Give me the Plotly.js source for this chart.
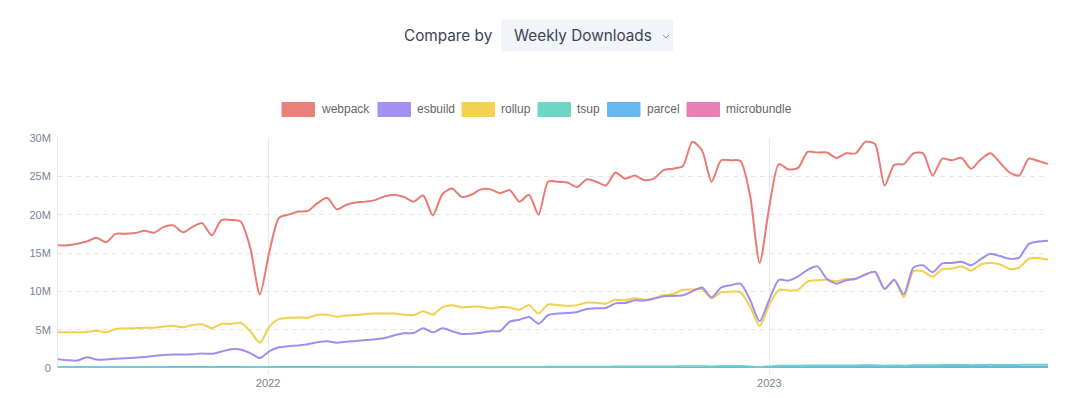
<!DOCTYPE html>
<html>
<head>
<meta charset="utf-8">
<script src="https://cdn.plot.ly/plotly-3.0.1.min.js"></script>
<style>
  html, body { margin: 0; padding: 0; background: #ffffff; }
  #chart { width: 1080px; height: 398px; }
</style>
</head>
<body>
<div id="chart"></div>
<script>
// ---------- DATA (weekly downloads, millions) ----------
const weeks = [
  '2021-08-01','2021-08-08','2021-08-15','2021-08-22','2021-08-29','2021-09-05','2021-09-12','2021-09-19','2021-09-26','2021-10-03',
  '2021-10-10','2021-10-17','2021-10-24','2021-10-31','2021-11-07','2021-11-14','2021-11-21','2021-11-28','2021-12-05','2021-12-12',
  '2021-12-19','2021-12-26','2022-01-02','2022-01-09','2022-01-16','2022-01-23','2022-01-30','2022-02-06','2022-02-13','2022-02-20',
  '2022-02-27','2022-03-06','2022-03-13','2022-03-20','2022-03-27','2022-04-03','2022-04-10','2022-04-17','2022-04-24','2022-05-01',
  '2022-05-08','2022-05-15','2022-05-22','2022-05-29','2022-06-05','2022-06-12','2022-06-19','2022-06-26','2022-07-03','2022-07-10',
  '2022-07-17','2022-07-24','2022-07-31','2022-08-07','2022-08-14','2022-08-21','2022-08-28','2022-09-04','2022-09-11','2022-09-18',
  '2022-09-25','2022-10-02','2022-10-09','2022-10-16','2022-10-23','2022-10-30','2022-11-06','2022-11-13','2022-11-20','2022-11-27',
  '2022-12-04','2022-12-11','2022-12-18','2022-12-25','2023-01-01','2023-01-08','2023-01-15','2023-01-22','2023-01-29','2023-02-05',
  '2023-02-12','2023-02-19','2023-02-26','2023-03-05','2023-03-12','2023-03-19','2023-03-26','2023-04-02','2023-04-09','2023-04-16',
  '2023-04-23','2023-04-30','2023-05-07','2023-05-14','2023-05-21','2023-05-28','2023-06-04','2023-06-11','2023-06-18','2023-06-25',
  '2023-07-02','2023-07-09','2023-07-16','2023-07-23'
];

const webpack = [
  16.0,16.0,16.2,16.5,17.0,16.4,17.5,17.5,17.6,17.9,
  17.65,18.4,18.6,17.7,18.4,18.9,17.3,19.3,19.3,19.1,
  15.7,9.6,15.2,19.6,20.0,20.4,20.5,21.5,22.2,20.7,
  21.3,21.6,21.7,21.9,22.4,22.6,22.3,21.7,22.5,19.9,
  22.7,23.4,22.3,22.6,23.3,23.3,22.8,23.2,21.7,22.6,
  20.0,24.3,24.3,24.2,23.6,24.6,24.3,23.8,25.5,24.7,
  25.1,24.5,24.7,25.8,26.0,26.3,29.5,28.4,24.3,27.1,
  27.1,27.0,22.5,13.7,21.0,26.6,25.9,26.1,28.2,28.1,
  28.1,27.4,28.0,28.0,29.5,29.2,23.8,26.5,26.6,28.0,
  28.0,25.1,27.3,27.1,27.4,26.0,27.2,28.0,26.8,25.5,
  25.1,27.3,27.0,26.6
];

const esbuild = [
  1.15,1.02,0.97,1.4,1.12,1.1,1.2,1.28,1.35,1.45,
  1.55,1.7,1.75,1.75,1.8,1.9,1.85,2.15,2.45,2.42,
  1.95,1.3,2.2,2.7,2.83,2.95,3.1,3.35,3.48,3.3,
  3.43,3.52,3.65,3.74,3.9,4.26,4.52,4.57,5.17,4.65,
  5.17,4.8,4.43,4.48,4.6,4.8,4.83,6.05,6.3,6.65,
  5.78,6.9,7.1,7.17,7.3,7.7,7.8,7.83,8.43,8.48,
  8.83,8.8,9.05,9.35,9.4,9.48,10.0,10.5,9.2,10.5,
  10.8,11.0,8.9,6.1,8.9,11.5,11.4,11.95,12.8,13.26,
  11.6,11.0,11.45,11.65,12.2,12.55,10.3,11.5,9.6,13.1,
  13.4,12.5,13.65,13.7,13.85,13.4,14.2,14.9,14.6,14.25,
  14.4,16.2,16.5,16.6
];

const rollup = [
  4.65,4.65,4.65,4.7,4.85,4.65,5.1,5.15,5.2,5.25,
  5.25,5.4,5.5,5.3,5.6,5.7,5.2,5.75,5.75,5.9,
  4.8,3.3,5.4,6.4,6.55,6.6,6.55,6.95,6.95,6.7,
  6.85,6.9,7.05,7.1,7.1,7.1,6.95,6.9,7.4,6.95,
  7.95,8.2,7.9,8.0,8.0,7.75,7.95,7.9,7.6,8.2,
  7.1,8.3,8.2,8.1,8.2,8.55,8.5,8.4,8.9,8.85,
  9.1,8.9,9.1,9.5,9.65,10.2,10.25,10.3,9.1,9.9,
  9.95,9.9,8.0,5.5,8.25,10.2,10.1,10.2,11.3,11.45,
  11.5,11.3,11.65,11.6,12.2,12.5,10.3,11.45,9.25,12.6,
  12.6,11.9,12.9,12.95,13.25,12.7,13.5,13.7,13.5,12.95,
  13.1,14.25,14.35,14.1
];

const tsup = [
  0.03,0.03,0.03,0.03,0.03,0.04,0.04,0.04,0.04,0.04,
  0.05,0.05,0.05,0.05,0.05,0.06,0.06,0.06,0.06,0.06,
  0.05,0.03,0.05,0.07,0.07,0.08,0.08,0.08,0.09,0.09,
  0.09,0.1,0.1,0.1,0.1,0.11,0.11,0.11,0.12,0.11,
  0.12,0.12,0.12,0.13,0.13,0.13,0.13,0.14,0.14,0.14,
  0.13,0.15,0.15,0.15,0.16,0.16,0.16,0.17,0.18,0.18,
  0.18,0.19,0.19,0.2,0.21,0.22,0.23,0.24,0.21,0.25,
  0.26,0.26,0.2,0.13,0.2,0.28,0.29,0.3,0.31,0.32,
  0.32,0.32,0.33,0.34,0.35,0.35,0.3,0.34,0.29,0.37,
  0.37,0.35,0.38,0.38,0.39,0.37,0.4,0.41,0.4,0.39,
  0.4,0.43,0.44,0.44
];

const parcel = [
  0.1,0.1,0.1,0.1,0.11,0.11,0.11,0.11,0.11,0.11,
  0.11,0.11,0.12,0.12,0.12,0.12,0.11,0.12,0.12,0.12,
  0.1,0.07,0.1,0.12,0.12,0.12,0.12,0.13,0.13,0.13,
  0.13,0.13,0.13,0.13,0.13,0.13,0.13,0.13,0.13,0.12,
  0.13,0.13,0.13,0.13,0.13,0.13,0.13,0.13,0.12,0.13,
  0.12,0.13,0.13,0.13,0.13,0.14,0.14,0.14,0.14,0.14,
  0.14,0.14,0.14,0.14,0.14,0.14,0.14,0.14,0.13,0.14,
  0.14,0.14,0.12,0.08,0.12,0.14,0.14,0.14,0.15,0.15,
  0.15,0.15,0.15,0.15,0.15,0.15,0.13,0.14,0.12,0.15,
  0.15,0.14,0.15,0.15,0.15,0.14,0.15,0.15,0.15,0.14,
  0.14,0.15,0.15,0.15
];

const microbundle = [
  0.03,0.03,0.03,0.03,0.03,0.03,0.03,0.03,0.03,0.03,
  0.03,0.03,0.03,0.03,0.03,0.03,0.03,0.03,0.03,0.03,
  0.02,0.02,0.02,0.03,0.03,0.03,0.03,0.03,0.03,0.03,
  0.03,0.03,0.03,0.03,0.03,0.03,0.03,0.03,0.03,0.03,
  0.03,0.03,0.03,0.03,0.03,0.03,0.03,0.03,0.03,0.03,
  0.03,0.03,0.03,0.03,0.03,0.03,0.03,0.03,0.03,0.03,
  0.03,0.03,0.03,0.03,0.03,0.03,0.03,0.03,0.03,0.03,
  0.03,0.03,0.02,0.02,0.02,0.03,0.03,0.03,0.03,0.03,
  0.03,0.03,0.03,0.03,0.03,0.03,0.03,0.03,0.03,0.03,
  0.03,0.03,0.03,0.03,0.03,0.03,0.03,0.03,0.03,0.03,
  0.03,0.03,0.03,0.03
];

const seriesNames = ['webpack','esbuild','rollup','tsup','parcel','microbundle'];
const seriesValues = [webpack, esbuild, rollup, tsup, parcel, microbundle];
const seriesColors = ['#e97a74','#a18cf1','#f3cf4a','#68d3c2','#60b6f1','#e879b0'];

const yTickVals = [0,5,10,15,20,25,30];
const yTickText = ['0','5M','10M','15M','20M','25M','30M'];

const headerLabel = 'Compare by';
const headerValue = 'Weekly Downloads';

// ---------- LAYOUT ----------
const W = 1080, H = 398;
const mL = 58, mR = 32, mT = 138, mB = 30;
const pw = W - mL - mR, ph = H - mT - mB;
const px = x => (x - mL) / pw;
const py = y => (H - mB - y) / ph;

// Chart.js draws the first dataset on top -> add in reverse
const traces = [];
for (let i = seriesNames.length - 1; i >= 0; i--) {
  traces.push({
    type: 'scatter', mode: 'lines', name: seriesNames[i],
    x: weeks, y: seriesValues[i],
    line: { color: seriesColors[i], width: 2, shape: 'spline', smoothing: 0.7 },
    hoverinfo: 'skip', showlegend: false
  });
}

const shapes = [];
const annotations = [];

// header dropdown box
shapes.push({ type: 'rect', xref: 'paper', yref: 'paper',
  x0: px(501), x1: px(673), y0: py(19.5), y1: py(51.5),
  fillcolor: '#f1f4f9', line: { width: 0 }, layer: 'below' });
annotations.push({ xref: 'paper', yref: 'paper', x: px(402), y: py(36), xanchor: 'left', yanchor: 'middle',
  text: headerLabel, showarrow: false, font: { family: 'Inter, sans-serif', size: 15.3, color: '#3c4454' } });
annotations.push({ xref: 'paper', yref: 'paper', x: px(512), y: py(36), xanchor: 'left', yanchor: 'middle',
  text: headerValue, showarrow: false, font: { family: 'Inter, sans-serif', size: 15.3, color: '#3c4454' } });
// chevron
shapes.push({ type: 'path', xref: 'paper', yref: 'paper',
  path: 'M ' + px(663) + ',' + py(35) + ' L ' + px(666) + ',' + py(38) + ' L ' + px(669) + ',' + py(35),
  line: { color: '#8a93a3', width: 1 } });

// legend
const legendBoxX = [282, 378, 462, 538, 607.5, 687];
const boxW = 32.5, boxTop = 102.5, boxBot = 116.5;
for (let i = 0; i < seriesNames.length; i++) {
  const x0 = legendBoxX[i];
  shapes.push({ type: 'rect', xref: 'paper', yref: 'paper',
    x0: px(x0), x1: px(x0 + boxW), y0: py(boxBot), y1: py(boxTop),
    fillcolor: seriesColors[i], opacity: 0.95, line: { color: seriesColors[i], width: 1 } });
  annotations.push({ xref: 'paper', yref: 'paper', x: px(x0 + boxW + 4.5), y: py(109.5),
    xanchor: 'left', yanchor: 'middle', text: seriesNames[i], showarrow: false,
    font: { family: 'Liberation Sans, Arial, sans-serif', size: 12, color: '#666666' } });
}

const layout = {
  width: W, height: H,
  margin: { l: mL, r: mR, t: mT, b: mB, pad: 0 },
  paper_bgcolor: '#ffffff', plot_bgcolor: '#ffffff',
  showlegend: false,
  xaxis: {
    type: 'date', range: [weeks[0], weeks[weeks.length - 1]],
    tick0: '2022-01-01', dtick: 'M12', tickformat: '%Y',
    showgrid: true, gridcolor: '#e9e9e9', gridwidth: 1,
    ticks: 'outside', ticklen: 5, tickcolor: '#e9e9e9',
    showline: false, zeroline: false,
    tickfont: { family: 'Liberation Sans, Arial, sans-serif', size: 11, color: '#7a8294' }
  },
  yaxis: {
    range: [0, 30], tickvals: yTickVals, ticktext: yTickText,
    showgrid: true, gridcolor: '#e6e6e6', gridwidth: 1, griddash: '5px,4px',
    showline: true, linecolor: '#e6e6e6', linewidth: 1,
    zeroline: false, ticks: '', ticklabelstandoff: 4,
    tickfont: { family: 'Liberation Sans, Arial, sans-serif', size: 11, color: '#7a8294' }
  },
  shapes: shapes,
  annotations: annotations
};

Plotly.newPlot('chart', traces, layout, { displayModeBar: false, staticPlot: true });
</script>
</body>
</html>
